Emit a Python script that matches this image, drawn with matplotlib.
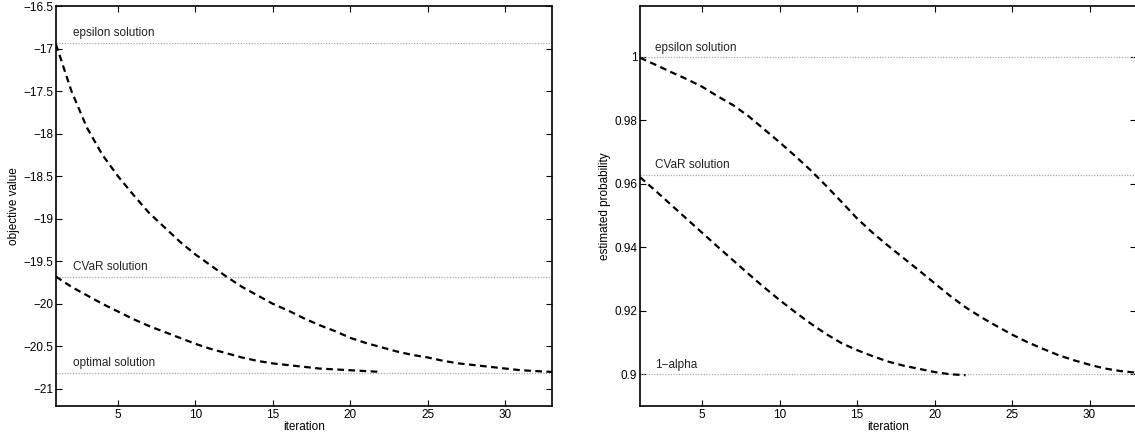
import matplotlib
matplotlib.use('Agg')
import matplotlib.pyplot as plt
from matplotlib.ticker import FuncFormatter

plt.rcParams['font.family'] = ['Liberation Sans', 'DejaVu Sans']
plt.rcParams['font.size'] = 8.5

# left panel: objective value per iteration
iters_eps = list(range(1, 34))
obj_eps = [-16.95, -17.50, -17.93, -18.25, -18.50, -18.72, -18.93, -19.10, -19.27,
           -19.42, -19.55, -19.68, -19.80, -19.90, -20.00, -20.08, -20.17, -20.25,
           -20.32, -20.40, -20.46, -20.51, -20.56, -20.60, -20.63, -20.67, -20.70,
           -20.72, -20.74, -20.76, -20.78, -20.79, -20.80]
iters_cvar = list(range(1, 23))
obj_cvar = [-19.68, -19.80, -19.90, -20.00, -20.09, -20.18, -20.26, -20.33, -20.40,
            -20.47, -20.53, -20.58, -20.63, -20.67, -20.70, -20.72, -20.74, -20.76,
            -20.77, -20.78, -20.79, -20.80]
obj_refs = [-16.93, -19.68, -20.81]
obj_ref_labels = ['epsilon solution', 'CVaR solution', 'optimal solution']

# right panel: estimated probability per iteration
prob_eps = [0.9997, 0.9975, 0.9952, 0.9930, 0.9906, 0.9876, 0.9848, 0.9813, 0.9772,
            0.9731, 0.9688, 0.9643, 0.9594, 0.9543, 0.9491, 0.9446, 0.9405, 0.9366,
            0.9327, 0.9287, 0.9247, 0.9211, 0.9180, 0.9152, 0.9125, 0.9101, 0.9080,
            0.9060, 0.9044, 0.9030, 0.9018, 0.9010, 0.9005]
prob_cvar = [0.9621, 0.9578, 0.9534, 0.9490, 0.9446, 0.9402, 0.9359, 0.9316, 0.9274,
             0.9234, 0.9196, 0.9160, 0.9127, 0.9098, 0.9076, 0.9057, 0.9040, 0.9027,
             0.9017, 0.9007, 0.9000, 0.8997]
prob_refs = [0.9998, 0.9628, 0.9]
prob_ref_labels = ['epsilon solution', 'CVaR solution', '1\u2212alpha']

fig = plt.figure(figsize=(11.35, 4.4), dpi=100)
ax1 = fig.add_axes([0.0493, 0.0773, 0.437, 0.909])
ax2 = fig.add_axes([0.5639, 0.0773, 0.437, 0.909])

minus_fmt = FuncFormatter(lambda v, p: ('%g' % v).replace('-', '\u2212'))


def style(ax):
    ax.tick_params(direction='in', top=True, right=True, length=4, width=0.8,
                   labelsize=8.5, pad=2)
    for s in ax.spines.values():
        s.set_linewidth(1.2)
    ax.set_xlim(1, 33)
    ax.set_xticks([5, 10, 15, 20, 25, 30])
    ax.yaxis.set_major_formatter(minus_fmt)
    ax.set_xlabel('iteration', labelpad=0)


for y, lab in zip(obj_refs, obj_ref_labels):
    ax1.axhline(y, color='#aaaaaa', linestyle=(0, (1, 1.2)), linewidth=0.9)
    ax1.annotate(lab, (2.1, y), xytext=(0, 2.5), textcoords='offset points',
                 va='bottom', ha='left', color='#222222')
ax1.plot(iters_eps, obj_eps, color='black', linestyle=(0, (3, 2)), linewidth=1.6)
ax1.plot(iters_cvar, obj_cvar, color='black', linestyle=(0, (3, 2)), linewidth=1.6)
ax1.set_ylim(-21.2, -16.5)
ax1.set_yticks([-21, -20.5, -20, -19.5, -19, -18.5, -18, -17.5, -17, -16.5])
ax1.set_ylabel('objective value', labelpad=2)
style(ax1)

for y, lab in zip(prob_refs, prob_ref_labels):
    ax2.axhline(y, color='#aaaaaa', linestyle=(0, (1, 1.2)), linewidth=0.9)
    ax2.annotate(lab, (1.95, y), xytext=(0, 2.5), textcoords='offset points',
                 va='bottom', ha='left', color='#222222')
ax2.plot(iters_eps, prob_eps, color='black', linestyle=(0, (3, 2)), linewidth=1.6)
ax2.plot(iters_cvar, prob_cvar, color='black', linestyle=(0, (3, 2)), linewidth=1.6)
ax2.set_ylim(0.89, 1.016)
ax2.set_yticks([0.9, 0.92, 0.94, 0.96, 0.98, 1.0])
ax2.set_ylabel('estimated probability', labelpad=2)
style(ax2)

fig.savefig('out.png', dpi=100)
